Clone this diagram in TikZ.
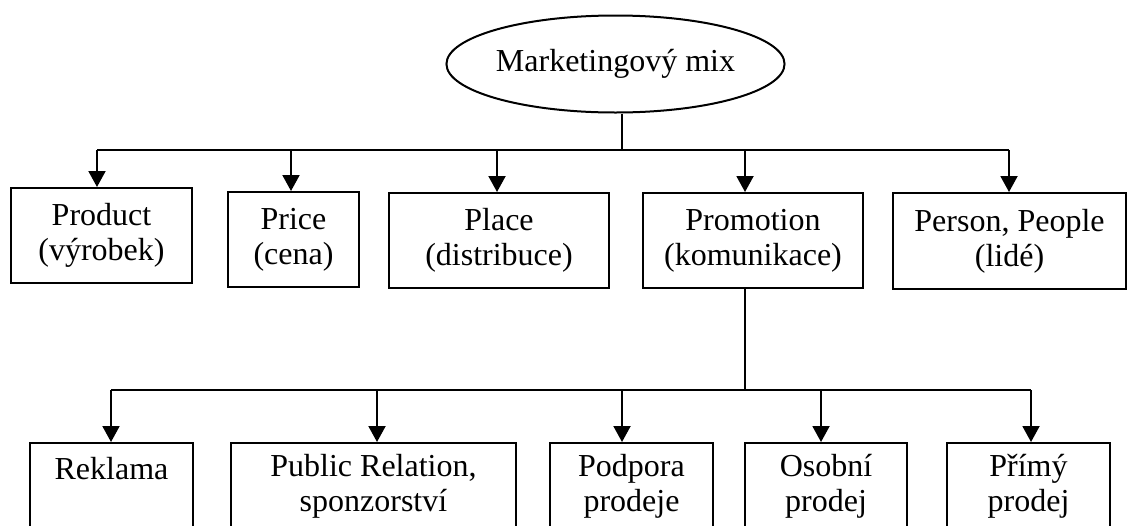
\documentclass[tikz,border=0pt]{standalone}
\usepackage{fontspec}
\setmainfont{Liberation Serif}
\usetikzlibrary{shapes.geometric,arrows.meta}
\begin{document}
\begin{tikzpicture}[x=0.5pt,y=-0.5pt,line width=1pt,
  txt/.style={font=\fontsize{16}{17.5}\selectfont},
  box/.style={draw,rectangle,inner sep=0pt,align=center,txt},
  arr/.style={-{Triangle[width=8.5pt,length=8pt]}}]
\begin{scope}
\clip (0,0) rectangle (1127,525);
% top
\node[draw,ellipse,minimum width=162.5pt,minimum height=48.5pt,inner sep=0pt,txt] (mm) at (615.5,64) {Marketingový mix};
% row 1
\node[box,minimum width=90.5pt,minimum height=47.5pt] (prod) at (101.5,235.5) {Product\\(výrobek)};
\node[box,minimum width=65.5pt,minimum height=47.5pt] (price) at (293.5,239.5) {Price\\(cena)};
\node[box,minimum width=110pt,minimum height=47.5pt] (place) at (499,240.5) {Place\\(distribuce)};
\node[box,minimum width=110pt,minimum height=47.5pt] (promo) at (753,240.5) {Promotion\\(komunikace)};
\node[box,minimum width=116.5pt,minimum height=48pt] (pers) at (1009.5,241) {Person, People\\(lidé)};
% row 2
\node[box,minimum width=81.5pt,minimum height=43pt] (rek) at (111.5,486) {Reklama\\\mbox{}};
\node[box,minimum width=142.5pt,minimum height=43pt] (pr) at (373.5,486) {Public Relation,\\sponzorství};
\node[box,minimum width=81.5pt,minimum height=43pt] (pod) at (631.5,486) {Podpora\\prodeje};
\node[box,minimum width=81pt,minimum height=43pt] (oso) at (826,486) {Osobní\\prodej};
\node[box,minimum width=81.5pt,minimum height=43pt] (pri) at (1028.5,486) {Přímý\\prodej};
% bus 1
\coordinate (j1) at (622,150);
\coordinate (b1a) at (97,150);
\coordinate (b1b) at (291,150);
\coordinate (b1c) at (497,150);
\coordinate (b1d) at (745,150);
\coordinate (b1e) at (1009,150);
\draw ([xshift=3.25pt]mm.south) -- (j1);
\draw (b1a) -- (b1e);
\draw[arr] (b1a) -- (b1a |- prod.north);
\draw[arr] (b1b) -- (b1b |- price.north);
\draw[arr] (b1c) -- (b1c |- place.north);
\draw[arr] (b1d) -- (b1d |- promo.north);
\draw[arr] (b1e) -- (b1e |- pers.north);
% bus 2
\coordinate (j2) at (745,390);
\coordinate (b2a) at (111,390);
\coordinate (b2b) at (377,390);
\coordinate (b2c) at (622,390);
\coordinate (b2d) at (821,390);
\coordinate (b2e) at (1031,390);
\draw (j2 |- promo.south) -- (j2);
\draw (b2a) -- (b2e);
\draw[arr] (b2a) -- (b2a |- rek.north);
\draw[arr] (b2b) -- (b2b |- pr.north);
\draw[arr] (b2c) -- (b2c |- pod.north);
\draw[arr] (b2d) -- (b2d |- oso.north);
\draw[arr] (b2e) -- (b2e |- pri.north);
\end{scope}
\pgfresetboundingbox
\useasboundingbox (0,0) rectangle (1127,525);
\end{tikzpicture}
\end{document}
